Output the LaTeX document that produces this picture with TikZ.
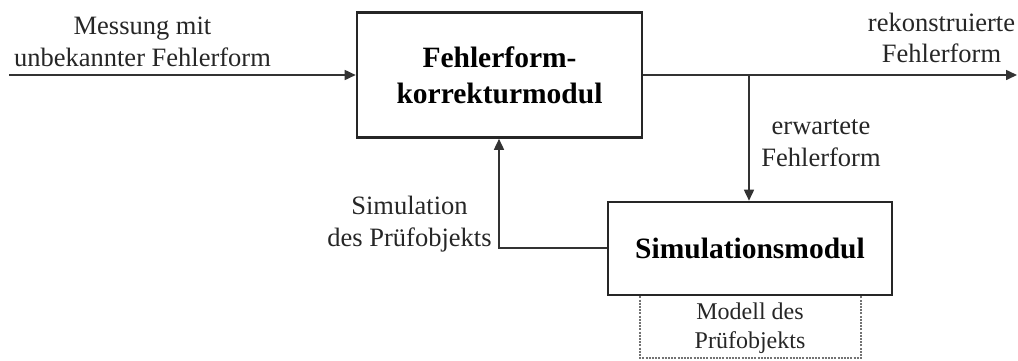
\documentclass[tikz,border=0pt]{standalone}
\usepackage{fontspec}
\setmainfont{Liberation Serif}
\usetikzlibrary{arrows.meta,positioning}
\begin{document}
\begin{tikzpicture}[x=1pt,y=-1pt,
  blockbox/.style={draw=black!85,line width=2.6pt,minimum width=#1,inner sep=0pt,align=center,font=\fontsize{29.5}{36}\selectfont\bfseries},
  conn/.style={draw=black!80,line width=1.6pt,-{Triangle[length=11pt,width=10pt]}},
  lbl/.style={inner sep=0pt,align=center,font=\fontsize{26.5}{31.5}\selectfont,text=black!85},
  smalllbl/.style={inner sep=0pt,align=center,font=\fontsize{24}{29}\selectfont,text=black!85}]
\useasboundingbox (0,0) rectangle (1018,360);
\node[blockbox=285pt,minimum height=125pt] (fk) at (499.5,75) {Fehlerform-\\korrekturmodul};
\node[blockbox=284pt,minimum height=93pt] (sim) at (750,248.5) {Simulationsmodul};
\draw[draw=black!55,line width=1.5pt,dash pattern=on 2pt off 1.2pt] (sim.south west -| 640,0) coordinate (da) -- (640,358) coordinate (db) -- (861,358) coordinate (dc) -- (sim.south west -| 861,0) coordinate (dd);
\node[smalllbl] (modell) at (750,328) {Modell des\\Prüfobjekts};
\coordinate (in) at (9,75);
\coordinate (out) at (1017,75);
\coordinate (br) at (749,75);
\coordinate (fb) at (499,248);
\draw[conn] (in) -- (fk.west);
\draw[conn] (fk.east) -- (out);
\draw[conn] (br) -- (br |- sim.north);
\draw[conn] (sim.west |- fb) -- (fb) -- (fb |- fk.south);
\node[lbl] (mess) at (142.5,42) {Messung mit\\unbekannter Fehlerform};
\node[lbl] (rek) at (941.5,38) {rekonstruierte\\Fehlerform};
\node[lbl] (erw) at (821,143) {erwartete\\Fehlerform};
\node[lbl] (simpf) at (409.5,224) {Simulation\\des Prüfobjekts};
\end{tikzpicture}
\end{document}
